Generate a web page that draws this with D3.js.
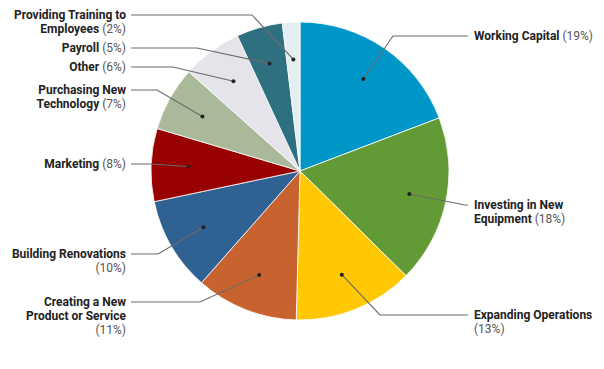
<!DOCTYPE html>
<html><head><meta charset="utf-8">
<script src="https://cdn.jsdelivr.net/npm/d3@7"></script>
<style>html,body{margin:0;padding:0;background:#fff;}svg{display:block;font-family:Roboto,"Noto Sans",sans-serif;}</style>
</head><body>
<svg id="c" width="604" height="369"></svg>
<script>
// Data
const categories = ["Working Capital","Investing in New Equipment","Expanding Operations","Creating a New Product or Service","Building Renovations","Marketing","Purchasing New Technology","Other","Payroll","Providing Training to Employees"];
const values = [19.2, 18.2, 13.0, 11.1, 10.2, 7.9, 7.0, 6.5, 5.0, 1.9];
const pctLabels = ["19%","18%","13%","11%","10%","8%","7%","6%","5%","2%"];
// label lines (wrapped name text); last line gets the percentage
const labelLines = [
  ["Working Capital"],
  ["Investing in New","Equipment"],
  ["Expanding Operations",""],
  ["Creating a New","Product or Service",""],
  ["Building Renovations",""],
  ["Marketing"],
  ["Purchasing New","Technology"],
  ["Other"],
  ["Payroll"],
  ["Providing Training to","Employees"]
];
// Styling / layout
const colors = ["#0096c8","#629a35","#ffc800","#c8622f","#2f6193","#990000","#a9b99a","#e4e4ea","#2f7080","#e2eef1"];
const side = ["r","r","r","l","l","l","l","l","l","l"];
const labelY = [36, 205, 315, 302, 254, 164, 90, 67, 48, 15];
const elbowX = [393, 465, 380, 200, 158, 150, 157, 173, 197, 252];

const W=604,H=369,cx=300,cy=171,R=149;
const svg=d3.select("#c");
const g=svg.append("g").attr("transform",`translate(${cx},${cy})`);
const pie=d3.pie().sort(null).value(d=>d)(values);
const arc=d3.arc().innerRadius(0).outerRadius(R);
const dotArc=d3.arc().innerRadius(R*0.75).outerRadius(R*0.75);

g.selectAll("path.s").data(pie).join("path").attr("class","s")
  .attr("d",arc).attr("fill",(d,i)=>colors[i])
  .attr("stroke","#fff").attr("stroke-width",0.8);

const lx={r:468, l:131};
const tx={r:474, l:126};
pie.forEach((d,i)=>{
  const [dx,dy]=dotArc.centroid(d);
  const px=cx+dx, py=cy+dy;
  const s=side[i];
  const ey=labelY[i];
  svg.append("path")
    .attr("d",`M${px},${py}L${elbowX[i]},${ey}L${lx[s]},${ey}`)
    .attr("fill","none").attr("stroke","#6a6a6a").attr("stroke-width",1.1);
  svg.append("circle").attr("cx",px).attr("cy",py).attr("r",2).attr("fill","#222");
  const t=svg.append("text").attr("x",tx[s]).attr("y",ey)
    .attr("text-anchor",s==="r"?"start":"end")
    .attr("font-size",12).attr("fill","#222");
  const lines=labelLines[i];
  lines.forEach((ln,j)=>{
    const ts=t.append("tspan").attr("x",tx[s]).attr("dy",j===0?"0.35em":"14");
    if(ln) ts.append("tspan").attr("font-weight","bold").text(ln);
    if(j===lines.length-1){
      ts.append("tspan").attr("fill","#555").text((ln?" ":"")+"("+pctLabels[i]+")");
    }
  });
});
</script>
</body></html>
